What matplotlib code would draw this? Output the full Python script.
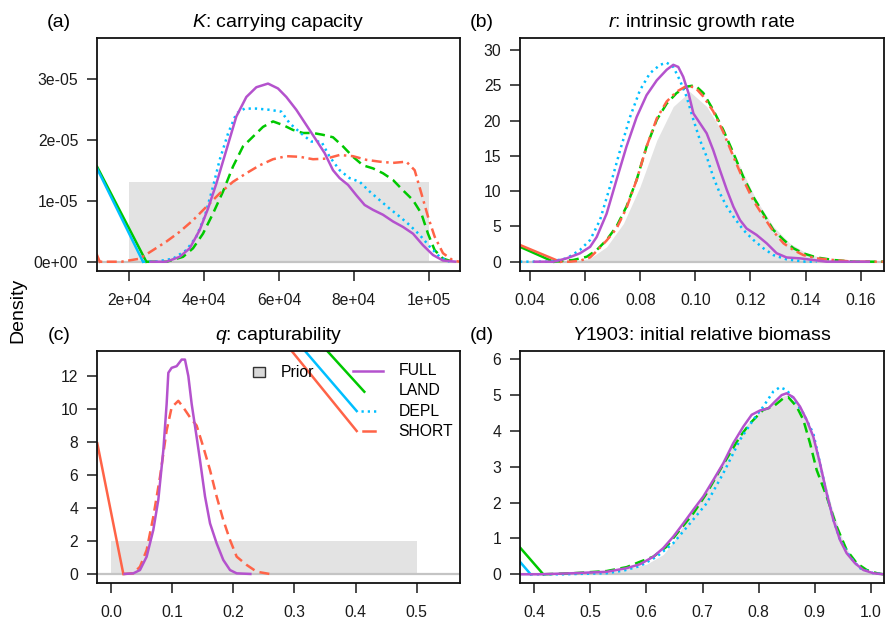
import matplotlib
matplotlib.use("Agg")
import matplotlib.pyplot as plt
from matplotlib.patches import Rectangle

plt.rcParams['font.family'] = ['Liberation Sans', 'DejaVu Sans']
plt.rcParams['mathtext.fontset'] = 'custom'
plt.rcParams['mathtext.it'] = 'Liberation Sans:italic'
plt.rcParams['mathtext.rm'] = 'Liberation Sans'

# colours / names of the four model runs
runs = ['FULL', 'LAND', 'DEPL', 'SHORT']
colors = {'FULL': '#b452cd', 'LAND': '#00c800', 'DEPL': '#00bfff', 'SHORT': '#ff6347'}
prior_col = '#e3e3e3'

# ---- (a) K: carrying capacity ----
a_prior_x = [2e4, 1e5]
a_prior_y = [1.3e-5, 1.3e-5]
a_full_x = [25500, 29960, 33500, 36200, 38850, 41070, 43290, 45960, 48620, 51290, 53960, 57070,
            59730, 61960, 64620, 67290, 69960, 72180, 74400, 76180, 78400, 80620, 82840, 85070,
            87730, 90400, 93070, 95730, 98400, 101070, 103730, 107290]
a_full_y = [0, 0, 0.08, 0.22, 0.52, 0.87, 1.28, 1.83, 2.38, 2.70, 2.86, 2.92, 2.84, 2.70, 2.49,
            2.24, 1.99, 1.78, 1.50, 1.37, 1.26, 1.09, 0.93, 0.85, 0.77, 0.66, 0.57, 0.46, 0.27,
            0.11, 0.02, 0]
a_depl_x = [23730, 27000, 31730, 35290, 37960, 40180, 42400, 44180, 46400, 48620, 50840, 53960,
            57510, 60620, 62840, 65960, 68620, 71290, 73510, 76180, 78840, 81510, 84180, 86840,
            89510, 92180, 94840, 97510, 100180, 102840, 105510]
a_depl_y = [0, 0, 0.05, 0.19, 0.41, 0.74, 1.23, 1.67, 2.10, 2.43, 2.51, 2.51, 2.49, 2.46, 2.27,
            2.10, 1.97, 1.97, 1.72, 1.50, 1.37, 1.31, 1.15, 1.01, 0.87, 0.74, 0.60, 0.44, 0.25,
            0.08, 0]
a_land_x = [24620, 30000, 34400, 37070, 39730, 42400, 45070, 47730, 50400, 53070, 55730, 58400,
            61070, 63730, 66400, 69070, 71730, 74400, 77070, 79730, 82400, 85070, 87730, 90400,
            93070, 95730, 97960, 99730, 101510, 103730, 106400]
a_land_y = [0, 0, 0.08, 0.22, 0.46, 0.79, 1.15, 1.56, 1.89, 2.05, 2.21, 2.30, 2.24, 2.16, 2.11,
            2.11, 2.08, 2.04, 1.89, 1.72, 1.58, 1.53, 1.45, 1.34, 1.17, 1.01, 0.79, 0.46, 0.19,
            0.05, 0]
a_short_x = [12200, 18000, 22840, 26400, 29960, 33510, 37070, 40620, 44180, 47730, 51290, 54840,
             58400, 61960, 65510, 69070, 72620, 76180, 79730, 83290, 86840, 90400, 93960, 96180,
             97960, 99730, 101510, 103730, 106400, 108180]
a_short_y = [0, 0, 0.05, 0.19, 0.33, 0.49, 0.68, 0.90, 1.12, 1.31, 1.45, 1.58, 1.68, 1.73, 1.72,
             1.68, 1.69, 1.75, 1.73, 1.67, 1.64, 1.62, 1.64, 1.50, 1.12, 0.74, 0.41, 0.14, 0.02, 0]
a_stray = {'LAND': ([11470, 24620], [1.56e-5, 0]),
           'DEPL': ([11470, 23730], [1.53e-5, 0]),
           'SHORT': ([11470, 12200], [0.11e-5, 0])}
a_xticks = [2e4, 4e4, 6e4, 8e4, 1e5]
a_xlabels = ['2e+04', '4e+04', '6e+04', '8e+04', '1e+05']
a_yticks = [0, 1e-5, 2e-5, 3e-5]
a_ylabels = ['0e+00', '1e-05', '2e-05', '3e-05']

# ---- (b) r: intrinsic growth rate ----
b_prior_x = [0.0533, 0.0618, 0.0678, 0.0739, 0.0799, 0.0860, 0.0920, 0.0980, 0.1041, 0.1101,
             0.1162, 0.1222, 0.1283, 0.1343, 0.1404, 0.1464, 0.1525, 0.158]
b_prior_y = [0, 0.47, 2.1, 5.4, 10.6, 17.2, 22.0, 24.1, 22.0, 18.2, 13.5, 8.7, 5.0, 2.6, 1.2,
             0.47, 0.14, 0]
b_full_x = [0.0412, 0.0485, 0.0533, 0.0581, 0.0618, 0.0642, 0.0678, 0.0714, 0.0750, 0.0787,
            0.0823, 0.0860, 0.0896, 0.0920, 0.0938, 0.0956, 0.0975, 0.0993, 0.1017, 0.1041,
            0.1065, 0.1089, 0.1114, 0.1138, 0.1162, 0.1186, 0.1222, 0.1259, 0.1295, 0.1331,
            0.1380, 0.1428, 0.1476, 0.1634]
b_full_y = [0, 0, 0.47, 1.18, 2.1, 3.5, 6.8, 11.6, 16.3, 20.5, 23.6, 25.7, 27.2, 27.9, 27.6,
            26.2, 23.9, 21.0, 19.6, 18.2, 15.8, 13.0, 10.2, 7.8, 5.9, 4.7, 3.8, 2.6, 1.2, 0.6,
            0.47, 0.24, 0, 0]
b_depl_x = [0.0364, 0.0472, 0.0533, 0.0581, 0.0618, 0.0654, 0.0690, 0.0727, 0.0763, 0.0799,
            0.0835, 0.0872, 0.0896, 0.0920, 0.0944, 0.0968, 0.0993, 0.1017, 0.1041, 0.1065,
            0.1089, 0.1114, 0.1138, 0.1174, 0.1210, 0.1247, 0.1283, 0.1331, 0.1400, 0.1440]
b_depl_y = [0, 0, 0.47, 1.65, 3.07, 5.9, 10.6, 15.8, 20.5, 24.3, 26.7, 27.9, 28.2, 27.6, 25.7,
            23.4, 20.1, 17.2, 14.9, 12.0, 9.7, 7.8, 6.4, 4.5, 3.1, 1.9, 0.94, 0.33, 0, 0]
b_land_x = [0.0485, 0.0557, 0.0606, 0.0642, 0.0678, 0.0714, 0.0750, 0.0787, 0.0823, 0.0860,
            0.0896, 0.0932, 0.0968, 0.0999, 0.1029, 0.1065, 0.1101, 0.1138, 0.1174, 0.1210,
            0.1247, 0.1283, 0.1320, 0.1356, 0.1392, 0.1440, 0.1501, 0.1573, 0.1685]
b_land_y = [0, 0.24, 0.7, 1.65, 3.07, 5.0, 7.8, 11.6, 16.3, 20.1, 22.4, 23.9, 24.8, 25.0, 23.9,
            21.5, 18.7, 15.4, 12.0, 9.2, 6.8, 4.5, 3.1, 1.9, 1.18, 0.6, 0.24, 0, 0]
b_short_x = [0.0509, 0.0545, 0.0581, 0.0618, 0.0642, 0.0678, 0.0714, 0.0750, 0.0787, 0.0823,
             0.0860, 0.0896, 0.0932, 0.0968, 0.0999, 0.1029, 0.1065, 0.1101, 0.1138, 0.1174,
             0.1210, 0.1247, 0.1283, 0.1320, 0.1356, 0.1392, 0.1440, 0.1501, 0.1573, 0.1685]
b_short_y = [0, 0, 0.14, 0.6, 1.5, 3.0, 4.7, 7.6, 11.6, 16.3, 20.3, 22.7, 24.1, 24.9, 24.7,
             23.4, 21.3, 18.4, 14.9, 11.6, 8.7, 6.4, 4.3, 2.6, 1.65, 0.94, 0.47, 0.24, 0, 0]
b_stray = {'LAND': ([0.0364, 0.0485], [2.1, 0]),
           'SHORT': ([0.0364, 0.0509], [2.36, 0])}
b_xticks = [0.04, 0.06, 0.08, 0.10, 0.12, 0.14, 0.16]
b_xlabels = ['0.04', '0.06', '0.08', '0.10', '0.12', '0.14', '0.16']
b_yticks = [0, 5, 10, 15, 20, 25, 30]

# ---- (c) q: capturability ----
c_prior_x = [0.0, 0.5]
c_prior_y = [2.0, 2.0]
c_full_x = [0.0202, 0.0365, 0.0474, 0.0583, 0.0692, 0.0774, 0.0856, 0.0910, 0.0938, 0.0992,
            0.1074, 0.1156, 0.1210, 0.1265, 0.1320, 0.1401, 0.1456, 0.1538, 0.1620, 0.1728,
            0.1837, 0.1947, 0.2056, 0.2300]
c_full_y = [0, 0.04, 0.24, 1.05, 2.67, 4.5, 7.5, 10.3, 12.2, 12.5, 12.6, 13.0, 13.0, 12.0, 10.3,
            8.3, 6.9, 4.7, 3.07, 1.86, 0.85, 0.24, 0.04, 0]
c_short_x = [0.0202, 0.0365, 0.0474, 0.0583, 0.0692, 0.0802, 0.0910, 0.0992, 0.1101, 0.1183,
             0.1292, 0.1401, 0.1510, 0.1620, 0.1728, 0.1837, 0.1947, 0.2056, 0.2219, 0.2383,
             0.2600]
c_short_y = [0, 0.04, 0.44, 1.45, 3.47, 5.9, 8.7, 10.1, 10.5, 10.1, 9.5, 9.0, 7.7, 6.3, 4.7,
             3.27, 2.06, 1.05, 0.55, 0.14, 0]
c_stray = {'SHORT': ([-0.0224, 0.0202], [7.92, 0])}
c_stray_top = {'LAND': ([0.3538, 0.4144], [13.52, 11.05]),
               'DEPL': ([0.3174, 0.4019], [13.52, 9.88]),
               'SHORT': ([0.2956, 0.4019], [13.52, 8.67])}
c_xticks = [0.0, 0.1, 0.2, 0.3, 0.4, 0.5]
c_xlabels = ['0.0', '0.1', '0.2', '0.3', '0.4', '0.5']
c_yticks = [0, 2, 4, 6, 8, 10, 12]

# ---- (d) Y1903: initial relative biomass ----
d_prior_x = [0.40, 0.45, 0.50, 0.55, 0.60, 0.63, 0.65, 0.68, 0.70, 0.73, 0.75, 0.78, 0.80,
             0.82, 0.84, 0.85, 0.87, 0.89, 0.91, 0.93, 0.95, 0.97, 0.99, 1.00, 1.01]
d_prior_y = [0, 0.01, 0.04, 0.1, 0.28, 0.55, 0.95, 1.75, 2.1, 2.9, 3.5, 4.2, 4.5, 4.7, 4.95,
             5.0, 4.75, 4.1, 3.1, 1.9, 0.95, 0.35, 0.08, 0.02, 0]
d_full_x = [0.3744, 0.41, 0.4696, 0.529, 0.5647, 0.5885, 0.6122, 0.63, 0.6479, 0.6658, 0.6836,
            0.7014, 0.7193, 0.7371, 0.7549, 0.7728, 0.7877, 0.8025, 0.8174, 0.8293, 0.8412,
            0.85, 0.862, 0.8739, 0.8857, 0.8976, 0.9095, 0.9214, 0.9333, 0.9452, 0.957, 0.972,
            0.9868, 1.0046, 1.0225]
d_full_y = [0, 0, 0.03, 0.07, 0.17, 0.28, 0.49, 0.73, 1.05, 1.42, 1.80, 2.17, 2.63, 3.10, 3.66,
            4.12, 4.45, 4.57, 4.63, 4.82, 5.0, 5.05, 4.94, 4.68, 4.31, 3.84, 3.10, 2.26, 1.52,
            0.96, 0.59, 0.31, 0.12, 0.03, 0]
d_depl_x = [0.3935, 0.45, 0.529, 0.5587, 0.5885, 0.6182, 0.648, 0.6777, 0.7074, 0.7371, 0.7668,
            0.7906, 0.8084, 0.8263, 0.8382, 0.85, 0.862, 0.8798, 0.8976, 0.9095, 0.9214, 0.9333,
            0.9452, 0.9631, 0.9809, 1.0046, 1.0225]
d_depl_y = [0, 0, 0.03, 0.1, 0.23, 0.49, 0.87, 1.42, 1.98, 2.82, 3.75, 4.31, 4.68, 5.10, 5.22,
            5.14, 4.91, 4.49, 3.93, 3.10, 2.26, 1.52, 0.96, 0.49, 0.17, 0.03, 0]
d_land_x = [0.416, 0.4696, 0.529, 0.5647, 0.5885, 0.6122, 0.636, 0.6598, 0.6836, 0.7074, 0.7312,
            0.749, 0.7668, 0.7847, 0.8084, 0.8263, 0.8441, 0.853, 0.8679, 0.8798, 0.8917, 0.9036,
            0.9214, 0.9393, 0.957, 0.975, 0.9928, 1.011, 1.0225]
d_land_y = [0, 0.03, 0.09, 0.2, 0.35, 0.49, 0.77, 1.24, 1.70, 2.26, 2.91, 3.38, 3.84, 4.21, 4.59,
            4.68, 4.91, 4.94, 4.68, 4.31, 3.66, 2.91, 2.17, 1.33, 0.68, 0.31, 0.12, 0.03, 0]
d_stray = {'LAND': ([0.3744, 0.416], [0.75, 0]),
           'DEPL': ([0.3744, 0.3935], [0.35, 0])}
d_xticks = [0.4, 0.5, 0.6, 0.7, 0.8, 0.9, 1.0]
d_xlabels = ['0.4', '0.5', '0.6', '0.7', '0.8', '0.9', '1.0']
d_yticks = [0, 1, 2, 3, 4, 5, 6]

LW = 1.8
dash_style = {'FULL': (None, None), 'LAND': (0, (4, 2.2)), 'DEPL': (0, (0.9, 1.6)),
              'SHORT': (0, (1, 1.8, 4, 1.8))}


def style_axes(ax, xlim, ylim, xticks, xlabels, yticks, ylabels, title, tag):
    ax.set_xlim(*xlim)
    ax.set_ylim(*ylim)
    ax.set_xticks(xticks)
    ax.set_xticklabels(xlabels)
    ax.set_yticks(yticks)
    ax.set_yticklabels(ylabels)
    ax.tick_params(direction='out', length=7, width=1.1, labelsize=11.3, colors='#1a1a1a')
    ax.tick_params(axis='x', pad=9)
    ax.tick_params(axis='y', pad=6.5)
    for s in ax.spines.values():
        s.set_linewidth(1.3)
        s.set_color('#111111')
    ax.set_title(title, fontsize=14, pad=8)
    # panel tag sits on the same baseline as the title
    ax.text(-0.105, 1 + 11.3 / 233, tag, transform=ax.transAxes, fontsize=14,
            ha='center', va='baseline')


def draw_curve(ax, x, y, run, scale=1.0):
    ls = dash_style[run]
    kw = dict(color=colors[run], lw=LW, solid_capstyle='butt', dash_capstyle='butt')
    if ls[0] is None:
        ax.plot(x, [v * scale for v in y], ls='-', **kw)
    else:
        ax.plot(x, [v * scale for v in y], ls=ls, **kw)


def draw_stray(ax, strays, scale=1.0):
    for run, (sx, sy) in strays.items():
        ax.plot(sx, [v * scale for v in sy], color=colors[run], lw=LW, ls='-')


fig = plt.figure(figsize=(8.85, 6.26), dpi=100)
W, H = 885, 626
def add_ax(l, t, r, b):
    return fig.add_axes([l / W, 1 - b / H, (r - l) / W, (b - t) / H])

ax_a = add_ax(97, 38, 460, 271)
ax_b = add_ax(520, 38, 884, 271)
ax_c = add_ax(97, 351, 460, 583)
ax_d = add_ax(520, 351, 884, 583)

base_col = '#c4c4c4'

# (a)
ax = ax_a
ax.fill_between(a_prior_x, 0, a_prior_y, color=prior_col, lw=0)
ax.axhline(0, color=base_col, lw=1.6)
draw_stray(ax, a_stray)
draw_curve(ax, a_land_x, a_land_y, 'LAND', 1e-5)
draw_curve(ax, a_depl_x, a_depl_y, 'DEPL', 1e-5)
draw_curve(ax, a_short_x, a_short_y, 'SHORT', 1e-5)
draw_curve(ax, a_full_x, a_full_y, 'FULL', 1e-5)
style_axes(ax, (11467, 108267), (-1.52e-6, 3.667e-5), a_xticks, a_xlabels, a_yticks, a_ylabels,
           r'$\mathit{K}$: carrying capacity', '(a)')

# (b)
ax = ax_b
ax.fill_between(b_prior_x, 0, b_prior_y, color=prior_col, lw=0)
ax.axhline(0, color=base_col, lw=1.6)
draw_stray(ax, b_stray)
draw_curve(ax, b_land_x, b_land_y, 'LAND')
draw_curve(ax, b_depl_x, b_depl_y, 'DEPL')
draw_curve(ax, b_short_x, b_short_y, 'SHORT')
draw_curve(ax, b_full_x, b_full_y, 'FULL')
style_axes(ax, (0.03637, 0.16846), (-1.32, 31.7), b_xticks, b_xlabels, b_yticks,
           [str(v) for v in b_yticks], r'$\mathit{r}$: intrinsic growth rate', '(b)')

# (c)
ax = ax_c
ax.fill_between(c_prior_x, 0, c_prior_y, color=prior_col, lw=0)
ax.axhline(0, color=base_col, lw=1.6)
draw_stray(ax, c_stray)
draw_stray(ax, c_stray_top)
ax.plot(c_short_x, c_short_y, color=colors['SHORT'], lw=LW, ls=(0, (4, 2.2)))
draw_curve(ax, c_full_x, c_full_y, 'FULL')
style_axes(ax, (-0.0229, 0.5709), (-0.545, 13.52), c_xticks, c_xlabels, c_yticks,
           [str(v) for v in c_yticks], r'$\mathit{q}$: capturability', '(c)')
# legend, drawn in axes coordinates
ax.add_patch(Rectangle((0.43, 0.888), 0.034, 0.043, transform=ax.transAxes,
                       facecolor='#d9d9d9', edgecolor='#333333', lw=1.0, clip_on=False))
ax.text(0.505, 0.909, 'Prior', transform=ax.transAxes, fontsize=11.3, va='center')
leg_y = [0.914, 0.828, 0.741, 0.655]
ax.plot([0.706, 0.789], [leg_y[0]] * 2, transform=ax.transAxes, color=colors['FULL'], lw=LW)
ax.plot([0.728, 0.772], [leg_y[2]] * 2, transform=ax.transAxes, color=colors['DEPL'], lw=LW,
        ls=(0, (0.9, 1.6)))
ax.plot([0.733, 0.765], [leg_y[3]] * 2, transform=ax.transAxes, color=colors['SHORT'], lw=LW)
for run, yy in zip(runs, leg_y):
    ax.text(0.83, yy, run, transform=ax.transAxes, fontsize=11.3, va='center')

# (d)
ax = ax_d
ax.fill_between(d_prior_x, 0, d_prior_y, color=prior_col, lw=0)
ax.axhline(0, color=base_col, lw=1.6)
draw_stray(ax, d_stray)
draw_curve(ax, d_land_x, d_land_y, 'LAND')
draw_curve(ax, d_depl_x, d_depl_y, 'DEPL')
draw_curve(ax, d_full_x, d_full_y, 'FULL')
style_axes(ax, (0.3745, 1.0237), (-0.243, 6.23), d_xticks, d_xlabels, d_yticks,
           [str(v) for v in d_yticks], r'$\mathit{Y1903}$: initial relative biomass', '(d)')

fig.text(18 / W, 1 - 310 / H, 'Density', rotation=90, fontsize=14, ha='center', va='center')

fig.savefig('out.png', dpi=100)
